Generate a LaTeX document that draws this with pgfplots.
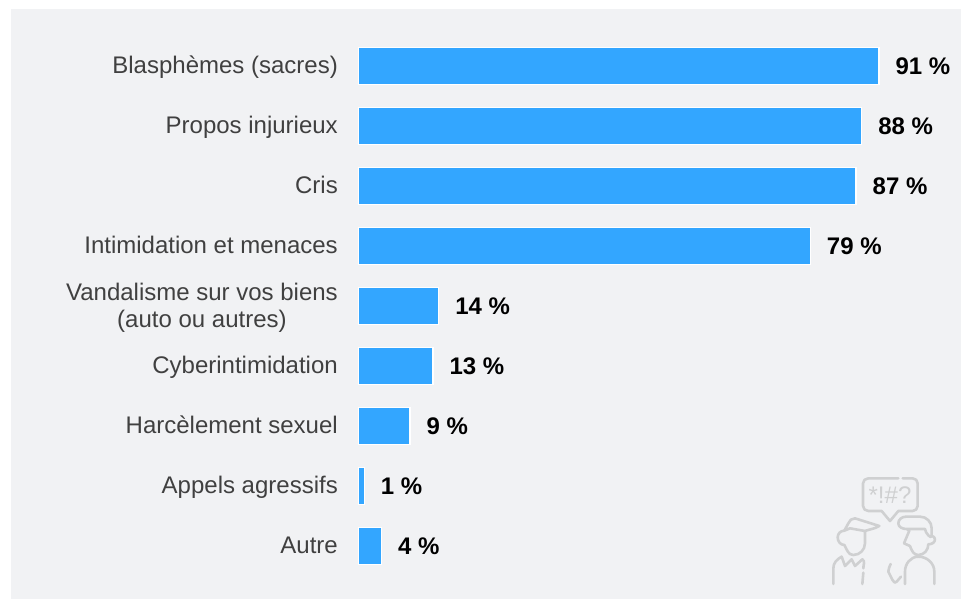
\documentclass[border=0pt]{standalone}
\usepackage{pgfplots}
\pgfplotsset{compat=1.18}
\usepackage{fontspec}
\setmainfont{Liberation Sans}
\definecolor{bgc}{HTML}{F1F2F4}
\definecolor{barc}{HTML}{33A6FF}
\definecolor{txt}{HTML}{404040}
\definecolor{ico}{HTML}{CFD0D1}
\begin{document}
\begin{tikzpicture}[x=1pt,y=-1pt]
\path[use as bounding box] (0,0) rectangle (961,599);
\fill[bgc] (11,9) rectangle (961,599);
\begin{axis}[
  at={(358.6pt,-599pt)},anchor=south west,
  scale only axis,width=602.4pt,height=599pt,
  xmin=0,xmax=105.35,
  ymin=-1.1,ymax=8.883,y dir=reverse,
  axis line style={draw=none},
  xtick=\empty,
  ytick={0,1,2,3,4,5,6,7,8},
  yticklabels={\strut Blasphèmes (sacres),\strut Propos injurieux,\strut Cris,\strut Intimidation et menaces,{\strut Vandalisme sur vos biens\\\strut (auto ou autres)},\strut Cyberintimidation,\strut Harcèlement sexuel,\strut Appels agressifs,\strut Autre},
  major tick length=0pt,
  yticklabel style={font=\fontsize{24pt}{27pt}\selectfont,text=txt,align=center,xshift=-20.6pt,yshift=-2.5pt,inner sep=0pt},
  xbar,bar width=37pt,bar shift=0pt,
  clip=false,
  nodes near coords={\pgfmathprintnumber[assume math mode=true]{\pgfplotspointmeta} \%},
  nodes near coords style={font=\fontsize{24pt}{27pt}\selectfont\bfseries,text=black,anchor=west,xshift=16pt,inner sep=0pt},
]
\addplot[fill=barc,draw=white,line width=1.2pt] coordinates {
(91,0)(88,1)(87,2)(79,3)(14,4)(13,5)(9,6)(1,7)(4,8)};
\end{axis}
\begin{scope}[shift={(800,460)},x=0.3333pt,y=-0.3333pt,draw=ico,line width=2.6pt,line cap=round,line join=round]
\draw (295,55) -- (205,55) to[out=180,in=90] (189,70) -- (189,138) to[out=-90,in=180] (205,153) -- (245,153) -- (270,183) -- (295,153) -- (338,153) to[out=0,in=-90] (353,138) -- (353,70) to[out=90,in=0] (338,55) -- (308,55);
\node[text=ico,font=\fontsize{24pt}{24pt}\selectfont] at (270,106) {*!\#?};
% left person
\draw (133,212) -- (145,190) to[out=70,in=180] (165,175) -- (238,198) to[out=-150,in=20] (195,213) -- (150,205) -- (133,212);
\draw (195,213) -- (195,250) to[out=-90,in=0] (160,285) to[out=180,in=-60] (133,255) to[out=180,in=-90] (113,232) to[out=90,in=180] (133,212);
\draw (125,290) to[out=-150,in=90] (100,325) -- (100,372);
\draw (125,290) -- (135,318) -- (155,298) -- (165,318) -- (187,298) to[out=-30,in=90] (190,325);
\draw (190,338) -- (187,372);
% right person
\draw (320,207) to[out=180,in=-90] (295,190) to[out=90,in=180] (318,170) -- (360,170) to[out=0,in=90] (395,205) -- (395,228) to[out=0,in=90] (405,238) to[out=-90,in=0] (385,253) to[out=-90,in=0] (355,285) to[out=180,in=-70] (330,258) -- (312,250) -- (328,212) -- (320,207) -- (375,207) to[out=-90,in=-90] (395,228);
\draw (315,372) -- (315,335) to[out=90,in=180] (355,290) to[out=0,in=90] (403,335) -- (403,372);
\draw (303,350) to[out=-120,in=60] (290,365) to[out=-120,in=-60] (265,335) to[out=100,in=-100] (272,312);
\end{scope}
\end{tikzpicture}
\end{document}
